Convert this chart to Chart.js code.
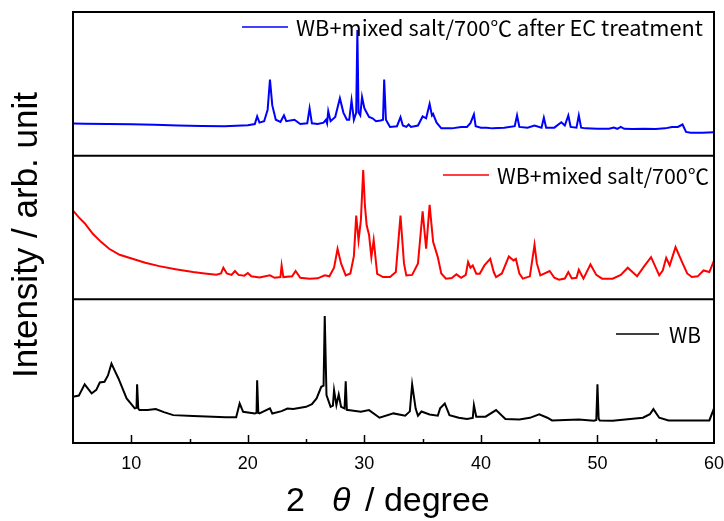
<!DOCTYPE html>
<html>
<head>
<meta charset="utf-8">
<script src="https://cdn.jsdelivr.net/npm/chart.js@4"></script>
<style>
  body { margin: 0; background: #fff; }
  #wrap { width: 724px; height: 521px; }
</style>
</head>
<body>
<div id="wrap"><canvas id="chart" width="724" height="521"></canvas></div>
<script>
// x axis tick labels (2 theta)
const xTicks = [10, 20, 30, 40, 50, 60];

// WB+mixed salt/700℃ after EC treatment (top panel)
const ecTheta = [5, 6, 8, 10, 12, 14, 16, 18, 19, 20, 20.6, 20.8, 21.0, 21.4, 21.7, 21.9, 22.1, 22.4, 22.8, 23.1,
  23.3, 24.0, 24.5, 25.1, 25.3, 25.5, 26.0, 26.5, 26.7, 26.8, 26.9, 27.1, 27.5, 27.9, 28.2, 28.5, 28.7, 28.9, 29.1, 29.3,
  29.4, 29.5, 29.65, 29.8, 30.0, 30.1, 30.4, 30.7, 31.0, 31.4, 31.6, 31.7, 31.85, 32.2, 32.8, 33.1, 33.3, 33.6, 33.8, 34.0,
  34.6, 35.0, 35.3, 35.6, 35.8, 35.9, 36.2, 36.6, 37.5, 38.3, 38.8, 39.1, 39.4, 39.55, 40, 40.5, 41, 42, 42.9, 43.1,
  43.3, 44.0, 44.6, 45.2, 45.4, 45.6, 46.3, 46.9, 47.2, 47.5, 47.7, 48.2, 48.4, 48.6, 49, 50, 51, 51.4, 51.7, 52.0,
  52.3, 53, 54, 55, 55.8, 56.4, 56.9, 57.3, 57.6, 58, 59, 60];
const ecInt = [22.4, 22.2, 22.0, 21.8, 21.5, 21.0, 20.6, 20.5, 20.8, 21.2, 22, 27.3, 23, 24, 32, 53, 35, 25, 23.5, 28,
  24, 25, 22, 22.5, 33, 22.5, 22, 23, 25, 22.5, 31, 24, 27, 40, 30, 25, 25, 38.5, 25, 30,
  87.4, 30, 28, 40.8, 33, 31.5, 27, 26, 24, 24.5, 25, 53, 25, 20, 20.5, 26.8, 21, 20, 21.7, 20,
  21, 27.3, 26, 36, 28, 29, 23, 19, 19, 20, 20, 22.6, 28.7, 20.5, 19.5, 19.5, 19, 19.5, 20.5, 28,
  20, 19.5, 21, 19.5, 26.4, 19.5, 19.5, 23.3, 21, 28, 20, 19.5, 28, 19.5, 19, 18.7, 18.7, 19.5, 18.7, 20,
  18.7, 18.5, 18.7, 18.6, 19, 20, 20, 21.7, 16.5, 16, 16, 16.3];

// WB+mixed salt/700℃ (middle panel)
const saltTheta = [5, 5.5, 6, 6.7, 7.4, 8.1, 9, 10.1, 11.2, 12.4, 13.8, 15.3, 16.3, 17.3, 17.7, 17.9, 18.2, 18.6, 18.9, 19.2,
  19.7, 20.0, 20.3, 21, 21.9, 22.3, 22.8, 22.9, 23.05, 23.8, 24.1, 24.5, 25.3, 26, 26.6, 27.0, 27.4, 27.7, 28.0, 28.4,
  28.8, 29.1, 29.3, 29.5, 29.7, 29.9, 30.05, 30.2, 30.4, 30.6, 30.8, 31.1, 31.6, 32.2, 32.7, 33.1, 33.4, 33.6, 34.1, 34.6,
  35.0, 35.3, 35.6, 35.9, 36.3, 36.6, 37.0, 37.5, 37.9, 38.3, 38.7, 38.9, 39.1, 39.3, 39.6, 39.9, 40.3, 40.8, 41.1, 41.3,
  41.8, 42.4, 42.8, 43.0, 43.3, 43.6, 44.2, 44.6, 44.8, 45.1, 45.9, 46.3, 46.7, 47.2, 47.5, 47.8, 48.2, 48.4, 48.8, 49.4,
  49.9, 50.4, 51.3, 52.0, 52.6, 53.4, 54.0, 54.6, 55.3, 55.6, 55.9, 56.2, 56.7, 57.3, 57.7, 58.1, 58.6, 59.1, 59.6, 60];
const saltInt = [61.8, 57, 53, 45.6, 40, 35.2, 31, 28.2, 25.5, 23.1, 21, 19, 18, 17.1, 18, 22, 18, 17, 19.7, 17,
  16.5, 18.3, 16, 15.2, 16.7, 15, 15.5, 23.6, 15.5, 16, 19.7, 15, 14.4, 14.6, 16.7, 16, 22, 35.2, 25, 16.7,
  18, 30, 58.3, 41, 55, 90, 65, 51.4, 45, 29.4, 41.4, 17.8, 15.5, 15.5, 19, 58.3, 25, 16.7, 17, 25,
  61.3, 35.2, 65.7, 40, 29.4, 18, 14.4, 14.8, 17.4, 15, 17, 26, 22, 23.6, 17.8, 17.8, 23.6, 28.2, 19, 15.5,
  18, 29.9, 27.1, 28.2, 18, 14.4, 16, 38, 25, 16.7, 19.7, 15, 13.7, 14.5, 19, 14.5, 15, 20.6, 14.4, 24.3,
  17, 14.4, 14.4, 17, 22, 16, 22.9, 29.4, 16.7, 20, 28.9, 23.6, 36.3, 25.2, 18, 15.5, 16, 20.1, 19, 27];

// WB (bottom panel)
const wbTheta = [5, 5.5, 6.0, 6.6, 7.0, 7.3, 7.7, 8.0, 8.3, 8.6, 8.9, 9.3, 9.6, 10.3, 10.45, 10.5, 10.6, 10.7, 11.4, 12.1,
  12.8, 13.6, 15.3, 17, 18.1, 19.0, 19.3, 19.6, 20.6, 20.75, 20.8, 20.9, 21.0, 21.9, 22.1, 22.9, 23.4, 23.9, 25.0, 25.5,
  25.9, 26.3, 26.5, 26.6, 26.75, 27.1, 27.3, 27.4, 27.6, 27.8, 28.0, 28.3, 28.4, 28.5, 28.6, 29.7, 30.4, 31.3, 32.5, 33.5,
  33.9, 34.1, 34.4, 34.6, 34.9, 35.6, 36.3, 36.5, 36.9, 37.3, 38.1, 38.8, 39.3, 39.4, 39.6, 40.4, 41.3, 42.1, 43.3, 44.2,
  45.0, 45.7, 46.1, 48.4, 49.7, 49.9, 50.0, 50.1, 50.2, 51.3, 53.9, 54.5, 54.8, 55.3, 56.1, 59.6, 60];
const wbInt = [32.2, 33, 40.8, 34.5, 37, 42.1, 42.6, 47, 55.3, 50, 44.9, 37, 31, 24.1, 24.5, 40.8, 24, 22.9, 23, 23.6,
  21.5, 19.4, 18.8, 18.2, 18, 18, 27.5, 21.7, 20.6, 21, 43.7, 21, 20.6, 24.1, 20.5, 22.2, 24, 23.6, 25.2, 27,
  31, 39.1, 40, 88.4, 33.3, 25.2, 26, 36.8, 26.4, 33.8, 25.2, 24, 43, 23, 22.9, 21.7, 22.9, 17.6, 20.6, 19,
  22, 40.8, 24, 19, 21.9, 19.9, 19, 24.1, 27.5, 19.4, 17.6, 16.7, 17.5, 26.4, 18.3, 18.3, 22.9, 16.7, 16.3, 17.5,
  19.9, 17.6, 15.7, 16.3, 15.5, 16, 40.8, 17, 15.7, 15.5, 17.6, 20, 23.6, 17.6, 15.7, 15.7, 24.1];

function toPoints(xs, ys) {
  return xs.map((x, i) => ({ x: x, y: ys[i] }));
}

// legend position for each panel: line start/end, text start, text width, y
const legendPos = {
  yTop: { x1: 242, x2: 288, tx: 296, tw: 407, y: 27 },
  yMid: { x1: 443, x2: 489, tx: 497, tw: 212, y: 175 },
  yBot: { x1: 616, x2: 659, tx: 669, tw: 32, y: 334 },
};

// text squeezed/stretched horizontally to fit a width
function fitText(ctx, text, x, y, width) {
  const w = ctx.measureText(text).width;
  ctx.save();
  ctx.translate(x, y);
  ctx.scale(width / w, 1);
  ctx.fillText(text, 0, 0);
  ctx.restore();
}

const framePlugin = {
  id: "frame",
  afterDraw(chart) {
    const ctx = chart.ctx;
    const area = chart.chartArea;
    const xScale = chart.scales.x;
    ctx.save();
    ctx.strokeStyle = "#000";
    ctx.lineWidth = 2;
    ctx.strokeRect(area.left, area.top, area.right - area.left, area.bottom - area.top);

    // panel dividers
    ["yMid", "yBot"].forEach((id) => {
      const s = chart.scales[id];
      ctx.beginPath();
      ctx.moveTo(area.left, s.top);
      ctx.lineTo(area.right, s.top);
      ctx.stroke();
    });

    // inward ticks on the bottom axis
    ctx.lineWidth = 1.5;
    for (let v = 10; v < 60; v += 5) {
      const px = Math.round(xScale.getPixelForValue(v)) + 0.5;
      const len = v % 10 === 0 ? 8 : 4;
      ctx.beginPath();
      ctx.moveTo(px, area.bottom);
      ctx.lineTo(px, area.bottom - len);
      ctx.stroke();
    }

    // legends
    ctx.font = '21px "Noto Sans CJK JP", "Liberation Sans", sans-serif';
    ctx.textBaseline = "middle";
    ctx.textAlign = "left";
    chart.data.datasets.forEach((ds) => {
      const p = legendPos[ds.yAxisID];
      ctx.strokeStyle = ds.borderColor;
      ctx.lineWidth = 1.5;
      ctx.beginPath();
      ctx.moveTo(p.x1, p.y);
      ctx.lineTo(p.x2, p.y);
      ctx.stroke();
      ctx.fillStyle = "#000";
      fitText(ctx, ds.label, p.tx, p.y + 1, p.tw);
    });

    // y axis title
    ctx.fillStyle = "#000";
    ctx.font = '35px "Liberation Sans", Arial, sans-serif';
    ctx.textAlign = "center";
    ctx.textBaseline = "middle";
    ctx.save();
    ctx.translate(27, 235);
    ctx.rotate(-Math.PI / 2);
    ctx.fillText("Intensity / arb. unit", 0, 0);
    ctx.restore();

    // x axis title with italic theta
    ctx.textAlign = "left";
    ctx.textBaseline = "alphabetic";
    ctx.font = '34px "Liberation Sans", Arial, sans-serif';
    ctx.fillText("2", 286, 511);
    ctx.font = 'italic 34px "Liberation Sans", Arial, sans-serif';
    ctx.fillText("θ", 332, 511);
    ctx.font = '34px "Liberation Sans", Arial, sans-serif';
    ctx.fillText("/ degree", 365, 511);
    ctx.restore();
  },
};

const panelScale = (weight) => ({
  type: "linear",
  display: false,
  stack: "xrd",
  stackWeight: weight,
  min: 0,
  max: 100,
});

new Chart(document.getElementById("chart"), {
  type: "line",
  data: {
    datasets: [
      {
        label: "WB+mixed salt/700℃ after EC treatment",
        data: toPoints(ecTheta, ecInt),
        borderColor: "#0000ff",
        yAxisID: "yTop",
      },
      {
        label: "WB+mixed salt/700℃",
        data: toPoints(saltTheta, saltInt),
        borderColor: "#ff0000",
        yAxisID: "yMid",
      },
      {
        label: "WB",
        data: toPoints(wbTheta, wbInt),
        borderColor: "#000000",
        yAxisID: "yBot",
      },
    ],
  },
  options: {
    responsive: false,
    animation: false,
    layout: { padding: { left: 73, right: 10, top: 12, bottom: 0 } },
    elements: {
      line: { borderWidth: 2, tension: 0 },
      point: { radius: 0 },
    },
    plugins: {
      legend: { display: false },
      tooltip: { enabled: false },
    },
    scales: {
      x: {
        type: "linear",
        min: 5,
        max: 60,
        grid: { drawOnChartArea: false, drawTicks: false },
        border: { display: false },
        afterBuildTicks: (scale) => {
          scale.ticks = xTicks.map((v) => ({ value: v }));
        },
        afterFit: (scale) => {
          scale.height = 78;
          scale.paddingLeft = 0;
          scale.paddingRight = 0;
        },
        ticks: {
          padding: 10,
          color: "#000",
          font: { family: '"Liberation Sans", Arial, sans-serif', size: 18 },
        },
      },
      yBot: panelScale(1),
      yMid: panelScale(1),
      yTop: panelScale(1),
    },
  },
  plugins: [framePlugin],
});
</script>
</body>
</html>
